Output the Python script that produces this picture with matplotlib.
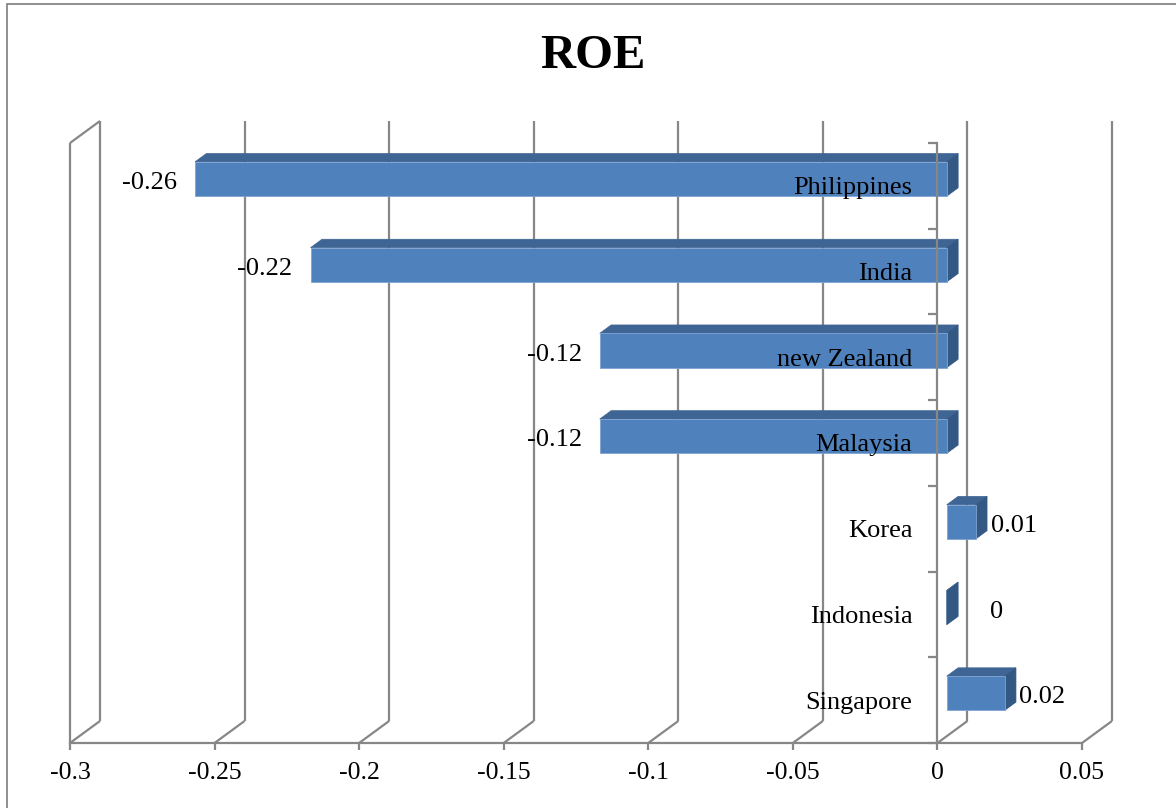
import matplotlib
matplotlib.use("Agg")
import matplotlib.pyplot as plt
from matplotlib.patches import Polygon, Rectangle
import numpy as np

# ---- data -------------------------------------------------------------
countries = ["Singapore", "Indonesia", "Korea", "Malaysia",
             "new Zealand", "India", "Philippines"]
roe = [0.02, 0.0, 0.01, -0.12, -0.12, -0.22, -0.26]
x_ticks = [-0.3, -0.25, -0.2, -0.15, -0.1, -0.05, 0.0, 0.05]
x_tick_labels = ["-0.3", "-0.25", "-0.2", "-0.15", "-0.1", "-0.05", "0", "0.05"]
title = "ROE"

# ---- styling ----------------------------------------------------------
SERIF = ["Liberation Serif", "DejaVu Serif"]
GRID = "#878787"
FRONT = "#4F81BD"
TOP = "#3F6594"
SIDE = "#345884"

W, H, DPI = 1176, 808, 100
fig = plt.figure(figsize=(W / DPI, H / DPI), dpi=DPI)
fig.patch.set_facecolor("white")

# plot area (front plane)
x0_px, x1_px = 70, 1082
y_top_px, y_bot_px = 143, 743
ax = fig.add_axes([x0_px / W, (H - y_bot_px) / H,
                   (x1_px - x0_px) / W, (y_bot_px - y_top_px) / H])
xmin, xmax = -0.3, 0.05
ymin, ymax = -0.5, len(countries) - 0.5
ax.set_xlim(xmin, xmax)
ax.set_ylim(ymin, ymax)
ax.patch.set_alpha(0)

# 3-D depth expressed in data units (30 px right, 22 px up at full depth)
DX = 30 * (xmax - xmin) / (x1_px - x0_px)
DY = 22 * (ymax - ymin) / (y_bot_px - y_top_px)


def pt(x, y, d):
    return (x + d * DX, y + d * DY)


def line(p, q, **kw):
    ax.plot([p[0], q[0]], [p[1], q[1]], color=GRID, lw=1.6,
            solid_capstyle="butt", clip_on=False, zorder=0.5, **kw)


# back wall gridlines and floor diagonals
for xv in x_ticks:
    line(pt(xv, ymin, 1), pt(xv, ymax, 1))
    line(pt(xv, ymin, 0), pt(xv, ymin, 1))
# left side wall
line(pt(xmin, ymin, 0), pt(xmin, ymax, 0))
line(pt(xmin, ymax, 0), pt(xmin, ymax, 1))

# ---- bars -------------------------------------------------------------
half = 0.2
d0, d1 = 0.31, 0.69
for i, v in enumerate(roe):
    lo, hi = i - half, i + half
    front = [pt(0, lo, d0), pt(v, lo, d0), pt(v, hi, d0), pt(0, hi, d0)]
    top = [pt(0, hi, d0), pt(v, hi, d0), pt(v, hi, d1), pt(0, hi, d1)]
    xe = max(v, 0)
    side = [pt(xe, lo, d0), pt(xe, hi, d0), pt(xe, hi, d1), pt(xe, lo, d1)]
    ax.add_patch(Polygon(top, closed=True, facecolor=TOP, edgecolor=TOP,
                         lw=0.5, zorder=1, clip_on=False))
    ax.add_patch(Polygon(side, closed=True, facecolor=SIDE, edgecolor=SIDE,
                         lw=0.5, zorder=1, clip_on=False))
    if v != 0:
        ax.add_patch(Polygon(front, closed=True, facecolor=FRONT,
                             edgecolor="#7FA3D3", lw=0.6, zorder=1.1,
                             clip_on=False))

    # value labels, vertically centred on the bar's front face
    fx, fy = pt(v, i, d0)
    if v < 0:
        ax.annotate(f"{v:g}", xy=(fx, fy), xytext=(-13, -3),
                    textcoords="offset points", ha="right", va="center",
                    fontsize=19, family=SERIF, zorder=3)
    else:
        sx, _ = pt(xe, i, d1)
        gap = 23 if v == 0 else 2.5
        ax.annotate(f"{v:g}", xy=(sx, fy), xytext=(gap, -3),
                    textcoords="offset points", ha="left", va="center",
                    fontsize=19, family=SERIF, zorder=3)
ax.set_axisbelow(False)

# ---- axes -------------------------------------------------------------
for s in ("top", "right"):
    ax.spines[s].set_visible(False)
ax.spines["left"].set_position(("data", 0))
ax.spines["left"].set_color(GRID)
ax.spines["left"].set_linewidth(1.6)
ax.spines["left"].set_zorder(2.5)
ax.spines["bottom"].set_color(GRID)
ax.spines["bottom"].set_linewidth(1.6)

ax.set_xticks(x_ticks)
ax.set_xticklabels(x_tick_labels, fontsize=18.5, family=SERIF)
ax.tick_params(axis="x", direction="out", length=5, width=1.6,
               color=GRID, pad=9)

ax.set_yticks(np.arange(ymin, ymax + 0.01, 1.0))
ax.set_yticklabels([])
ax.tick_params(axis="y", which="major", direction="out", length=6.5,
               width=1.6, color=GRID)
ax.set_yticks(range(len(countries)), minor=True)
ax.set_yticklabels(countries, minor=True, fontsize=19, family=SERIF,
                   va="center_baseline")
ax.tick_params(axis="y", which="minor", length=0, pad=18)

# ---- title and chart border --------------------------------------------
fig.text(593 / W, 1 - 56 / H, title, ha="center", va="center",
         fontsize=35, fontweight="bold", family=SERIF)
fig.patches.append(Rectangle((7 / W, -0.05), 1.2, 1 - 4 / H + 0.05,
                             transform=fig.transFigure, fill=False,
                             edgecolor=GRID, lw=1.3, zorder=0))

fig.savefig("out.png", dpi=DPI, facecolor="white")
